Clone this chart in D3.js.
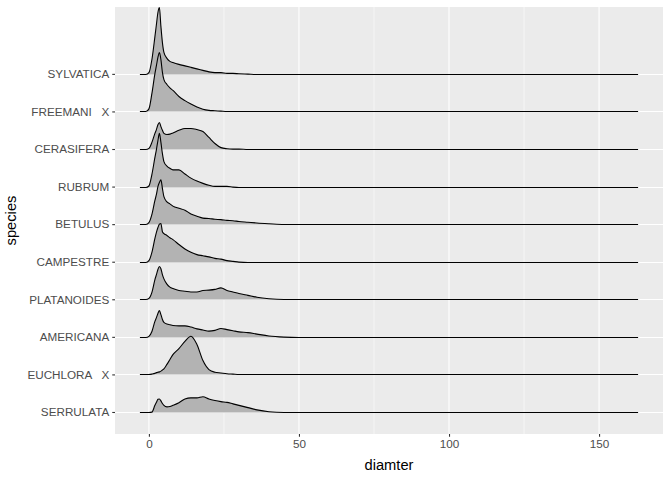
<!DOCTYPE html>
<html>
<head>
<meta charset="utf-8">
<script src="https://cdn.jsdelivr.net/npm/d3@7"></script>
<style>
  body { margin: 0; background: white; }
  text { font-family: "Liberation Sans", Arial, sans-serif; }
</style>
</head>
<body>
<svg id="chart"></svg>
<script>
var width = 672, height = 480;

// species, bottom to top
var species = ["SERRULATA", "EUCHLORA   X", "AMERICANA", "PLATANOIDES", "CAMPESTRE",
               "BETULUS", "RUBRUM", "CERASIFERA", "FREEMANI   X", "SYLVATICA"];

// diameter values where the ridge heights were read
var grid = [-3, -1, 0, 1, 2, 2.5, 3, 3.5, 4, 4.5, 5, 6, 7, 8, 10, 12, 14, 16, 18, 20,
            22, 24, 26, 28, 30, 33, 36, 40, 45, 50, 163];

// ridge heights (in row units) for each species, same order as grid
var serrulata   = [0, 0, 0, .01, .19, .27, .35, .36, .31, .24, .19, .15, .16, .19, .26, .36, .39, .39, .42, .36, .32, .29, .27, .23, .19, .13, .07, .02, 0, 0, 0];
var euchlora    = [0, 0, 0, .01, .03, .05, .06, .07, .09, .12, .15, .27, .40, .53, .69, .88, 1.02, .80, .37, .13, .06, .04, .02, .01, 0, 0, 0, 0, 0, 0, 0];
var americana   = [0, 0, .03, .16, .43, .53, .64, .72, .61, .48, .40, .36, .34, .32, .31, .31, .28, .23, .20, .17, .19, .24, .21, .18, .15, .13, .09, .04, .01, 0, 0];
var platanoides = [0, 0, .03, .19, .53, .66, .80, .88, .82, .66, .55, .41, .33, .29, .24, .22, .20, .20, .24, .25, .27, .31, .24, .20, .16, .11, .06, .02, 0, 0, 0];
var campestre   = [0, 0, .05, .27, .64, .80, .93, 1.02, 1.04, .82, .77, .72, .66, .61, .48, .36, .27, .21, .18, .15, .11, .09, .05, .03, .01, 0, 0, 0, 0, 0, 0];
var betulus     = [0, 0, .05, .27, .64, .80, 1.01, 1.12, 1.19, .96, .74, .60, .55, .49, .43, .38, .28, .22, .17, .16, .14, .13, .11, .10, .08, .06, .04, .02, 0, 0, 0];
var rubrum      = [0, 0, .04, .35, .80, 1.01, 1.25, 1.44, 1.20, .90, .69, .57, .51, .47, .47, .36, .25, .17, .11, .06, .03, .03, .03, .01, 0, 0, 0, 0, 0, 0, 0];
var cerasifera  = [0, 0, .03, .19, .43, .53, .66, .72, .61, .51, .43, .40, .41, .44, .51, .56, .56, .53, .48, .32, .16, .05, .02, .01, .01, 0, 0, 0, 0, 0, 0];
var freemani    = [0, 0, .07, .48, 1.01, 1.22, 1.44, 1.57, 1.38, 1.04, .85, .72, .63, .56, .40, .29, .20, .12, .06, .03, .02, .01, 0, 0, 0, 0, 0, 0, 0, 0, 0];
var sylvatica   = [0, 0, .05, .40, 1.01, 1.33, 1.65, 1.78, 1.28, .85, .59, .43, .35, .32, .27, .23, .19, .15, .11, .07, .05, .05, .03, .03, .02, .01, 0, 0, 0, 0, 0];

var ridges = [serrulata, euchlora, americana, platanoides, campestre,
              betulus, rubrum, cerasifera, freemani, sylvatica];

var xTicks = [0, 50, 100, 150];
var xMinor = [25, 75, 125];

var margin = {top: 7, right: 9, bottom: 46, left: 115};

var svg = d3.select("#chart")
  .attr("width", width)
  .attr("height", height);

var x = d3.scaleLinear()
  .domain([-11.3, 171.3])
  .range([margin.left, width - margin.right]);

var y = d3.scaleLinear()
  .domain([0.414, 11.78])
  .range([height - margin.bottom, margin.top]);

// baseline of row i, snapped to a pixel centre so the flat lines stay crisp
var base = function (i) { return Math.round(y(i + 1)) + 0.5; };

// panel
svg.append("rect")
  .attr("x", margin.left)
  .attr("y", margin.top)
  .attr("width", width - margin.right - margin.left)
  .attr("height", height - margin.bottom - margin.top)
  .style("fill", "#EBEBEB");

svg.selectAll(".minor")
  .data(xMinor)
.enter().append("line")
  .attr("class", "minor")
  .attr("x1", function(d){ return x(d);})
  .attr("x2", function(d){ return x(d);})
  .attr("y1", margin.top)
  .attr("y2", height - margin.bottom)
  .style("stroke", "white")
  .style("stroke-width", 0.55);

svg.selectAll(".major")
  .data(xTicks)
.enter().append("line")
  .attr("class", "major")
  .attr("x1", function(d){ return x(d);})
  .attr("x2", function(d){ return x(d);})
  .attr("y1", margin.top)
  .attr("y2", height - margin.bottom)
  .style("stroke", "white")
  .style("stroke-width", 1.1);

svg.selectAll(".hgrid")
  .data(species)
.enter().append("line")
  .attr("class", "hgrid")
  .attr("x1", margin.left)
  .attr("x2", width - margin.right)
  .attr("y1", function(d, i){ return base(i);})
  .attr("y2", function(d, i){ return base(i);})
  .style("stroke", "white")
  .style("stroke-width", 1.1);

// ridges, top row first so lower rows sit on top
var order = d3.range(species.length).reverse();

var area = function (i) {
  return d3.area()
    .x(function(d, k){ return x(grid[k]);})
    .y0(base(i))
    .y1(function(d){ return base(i) + y(i + 1 + d) - y(i + 1);})
    .curve(d3.curveMonotoneX);
};

var line = function (i) {
  return d3.line()
    .x(function(d, k){ return x(grid[k]);})
    .y(function(d){ return base(i) + y(i + 1 + d) - y(i + 1);})
    .curve(d3.curveMonotoneX);
};

order.forEach(function (i) {
  var g = svg.append("g").attr("class", "ridge");
  g.append("path")
    .attr("d", area(i)(ridges[i]))
    .style("fill", "#B3B3B3");
  g.append("path")
    .attr("d", line(i)(ridges[i]))
    .style("fill", "none")
    .style("stroke", "black")
    .style("stroke-width", 1.1);
});

// axes
var xAxis = svg.append("g")
  .attr("transform", "translate(0," + (height - margin.bottom) + ")")
  .call(d3.axisBottom(x).tickValues(xTicks).tickSize(2.75).tickPadding(3));

var yAxis = svg.append("g")
  .attr("transform", "translate(" + margin.left + ",0)")
  .call(d3.axisLeft(y).tickValues(d3.range(1, species.length + 1))
    .tickFormat(function(d){ return species[d - 1];})
    .tickSize(2.75).tickPadding(3));

[xAxis, yAxis].forEach(function (a) {
  a.select(".domain").remove();
  a.selectAll("line").style("stroke", "#333333").style("stroke-width", 1.1);
  a.selectAll("text")
    .style("fill", "#4D4D4D")
    .style("font-size", "11.7px")
    .style("font-family", "'Liberation Sans', Arial, sans-serif")
    .style("white-space", "pre")
    .attr("xml:space", "preserve");
});

svg.append("text")
  .attr("x", (margin.left + width - margin.right) / 2)
  .attr("y", 470)
  .attr("text-anchor", "middle")
  .style("font-size", "14.7px")
  .style("fill", "black")
  .text("diamter");

svg.append("text")
  .attr("transform", "translate(16," + ((margin.top + height - margin.bottom) / 2) + ") rotate(-90)")
  .attr("text-anchor", "middle")
  .style("font-size", "14.7px")
  .style("fill", "black")
  .text("species");
</script>
</body>
</html>
